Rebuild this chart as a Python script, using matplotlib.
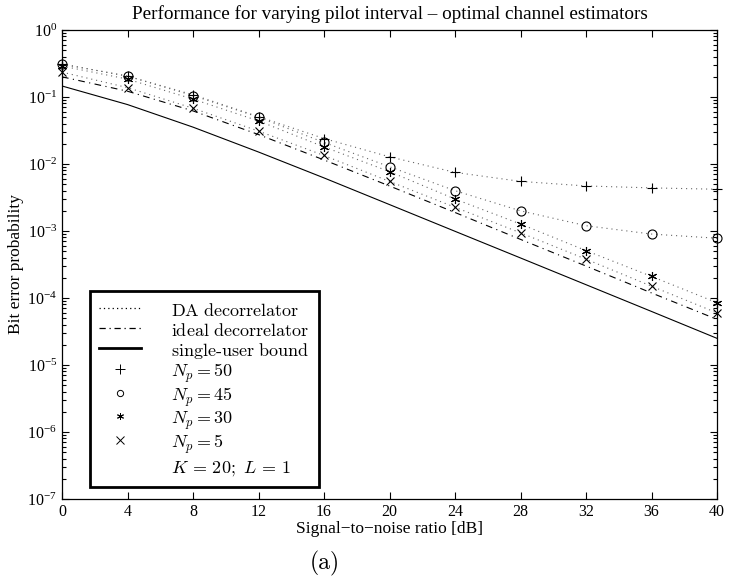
import numpy as np
import matplotlib
matplotlib.use("Agg")
import matplotlib.pyplot as plt
from matplotlib.ticker import FixedLocator, FuncFormatter, LogLocator, NullFormatter

plt.rcParams['font.family'] = 'Liberation Serif'
plt.rcParams['mathtext.fontset'] = 'cm'

snr = [0, 4, 8, 12, 16, 20, 24, 28, 32, 36, 40]

# single-user bound (solid)
ber_single = [0.146, 0.0771, 0.0355, 0.0151, 0.0062, 0.00248, 0.00099, 0.000396, 0.000158, 6.3e-5, 2.5e-5]
# ideal decorrelator (dash-dot)
ber_ideal = [0.20, 0.122, 0.062, 0.0275, 0.0115, 0.0047, 0.00189, 0.00075, 0.0003, 0.000119, 4.8e-5]
# DA decorrelator, different pilot intervals
ber_np50 = [0.31, 0.205, 0.108, 0.051, 0.024, 0.0128, 0.0075, 0.0055, 0.0047, 0.0044, 0.0042]
ber_np45 = [0.31, 0.205, 0.105, 0.050, 0.021, 0.0091, 0.0040, 0.0020, 0.0012, 0.0009, 0.00078]
ber_np30 = [0.29, 0.185, 0.093, 0.044, 0.018, 0.0077, 0.0030, 0.00127, 0.00051, 0.00021, 8.5e-5]
ber_np5 = [0.235, 0.138, 0.068, 0.031, 0.0134, 0.0055, 0.00226, 0.00094, 0.00038, 0.00015, 6.0e-5]

fig = plt.figure(figsize=(7.29, 5.84), dpi=100)
ax = fig.add_axes([62/729, 1-499/584, 655/729, 469/584])

dot = (0, (1, 3.5))
ax.plot(snr, ber_single, '-', color='k', lw=0.8)
ax.plot(snr, ber_ideal, color='k', lw=0.8, linestyle=(0, (6, 4, 1, 4)))
star = (6, 2, 0)
for ber, mk, ms in [(ber_np50, '+', 7), (ber_np45, 'o', 6.5), (ber_np30, star, 6.5), (ber_np5, 'x', 6)]:
    ax.plot(snr, ber, color='0.4', lw=0.8, linestyle=dot)
    ax.plot(snr, ber, linestyle='none', marker=mk, ms=ms, mfc='none', mec='k', mew=0.8, clip_on=False)

ax.set_yscale('log')
ax.set_xlim(0, 40)
ax.set_ylim(1e-7, 1)
ax.xaxis.set_major_locator(FixedLocator(snr))
ax.yaxis.set_major_locator(LogLocator(base=10, numticks=10))
ax.yaxis.set_minor_locator(LogLocator(base=10, subs=np.arange(2, 10), numticks=10))
ax.yaxis.set_minor_formatter(NullFormatter())
ax.yaxis.set_major_formatter(FuncFormatter(lambda v, p: r'$\mathdefault{10^{%d}}$' % round(np.log10(v))))
ax.tick_params(which='both', direction='in', top=True, right=True, labelsize=11.5, width=0.8)
ax.tick_params(which='major', length=5)
ax.tick_params(which='minor', length=3)
for s in ax.spines.values():
    s.set_linewidth(0.9)

ax.set_title('Performance for varying pilot interval \u2013 optimal channel estimators', fontsize=13.8, pad=8)
ax.set_xlabel('Signal\u2212to\u2212noise ratio [dB]', fontsize=12.5, labelpad=1)
ax.set_ylabel('Bit error probability', fontsize=12.5, labelpad=2)

# legend
h = []
h.append(plt.Line2D([], [], color='k', lw=0.9, linestyle=(0, (1, 2.5)), label=r'$\mathrm{DA\ decorrelator}$'))
h.append(plt.Line2D([], [], color='k', lw=0.9, linestyle=(0, (5, 3, 1, 3)), label=r'$\mathrm{ideal\ decorrelator}$'))
h.append(plt.Line2D([], [], color='k', lw=2.0, linestyle='-', label=r'$\mathrm{single}$-$\mathrm{user\ bound}$'))
h.append(plt.Line2D([], [], color='k', linestyle='none', marker='+', ms=7, mew=0.7, label=r'$N_p{=}50$'))
h.append(plt.Line2D([], [], color='k', linestyle='none', marker='o', ms=4.5, mfc='none', mew=0.7, label=r'$N_p{=}45$'))
h.append(plt.Line2D([], [], color='k', linestyle='none', marker=star, ms=5, mew=0.7, label=r'$N_p{=}30$'))
h.append(plt.Line2D([], [], color='k', linestyle='none', marker='x', ms=5.5, mew=0.7, label=r'$N_p{=}5$'))
h.append(plt.Line2D([], [], color='none', linestyle='none', label=r'$K\,=\,20;\ L\,=\,1$'))
leg = ax.legend(handles=h, loc='lower left', bbox_to_anchor=(0.043, 0.026), borderaxespad=0,
                prop={'family': 'cmr10', 'size': 13}, handlelength=2.3, handletextpad=1.7,
                handleheight=1.3, labelspacing=0.0, borderpad=0.5,
                fancybox=False, framealpha=1, edgecolor='k')
leg.get_frame().set_linewidth(2.0)

fig.text(325/729, 1-563/584, '(a)', family='cmr10', fontsize=17, ha='center', va='center')

fig.savefig('out.png', dpi=100)
